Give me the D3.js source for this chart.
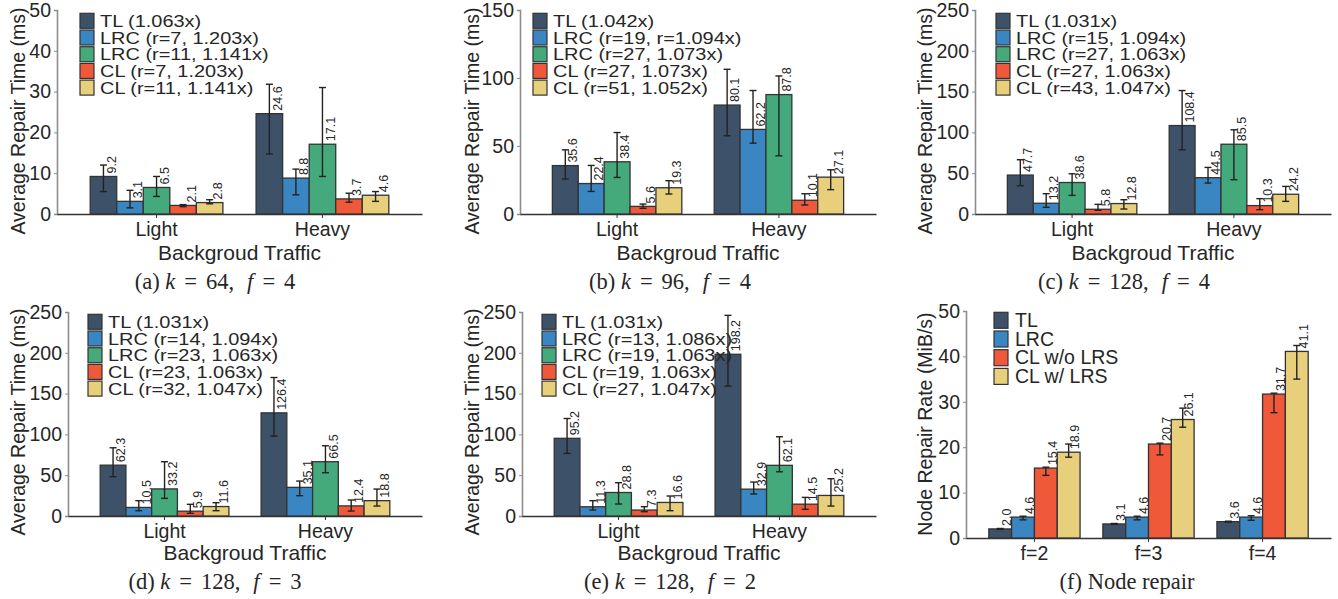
<!DOCTYPE html>
<html>
<head>
<meta charset="utf-8">
<script src="https://cdn.jsdelivr.net/npm/d3@7"></script>
<style>
  body { margin: 0; background: #fff; }
  svg { display: block; }
  text { font-family: Arial, "Liberation Sans", Helvetica, sans-serif; fill: #262626; }
  text.caption { font-family: "Times New Roman", "Liberation Serif", serif; }
</style>
</head>
<body>
<svg id="canvas" width="1338" height="599"></svg>
<script>
// ---- data ----
const trafficCats = ["Light", "Heavy"];
const repairTicks50 = [0, 10, 20, 30, 40, 50];
const repairTicks150 = [0, 50, 100, 150];
const repairTicks250 = [0, 50, 100, 150, 200, 250];

// (a) k=64, f=4
const aLegend = ["TL (1.063x)", "LRC (r=7, 1.203x)", "LRC (r=11, 1.141x)", "CL (r=7, 1.203x)", "CL (r=11, 1.141x)"];
const aValues = [[9.2, 3.1, 6.5, 2.1, 2.8], [24.6, 8.8, 17.1, 3.7, 4.6]];
const aLow = [[5.5, 1.5, 4.3, 1.8, 2.5], [14.7, 4.7, 9.2, 2.9, 3.1]];
const aHigh = [[12.0, 5.8, 9.2, 2.3, 3.5], [31.8, 11.0, 31.0, 5.1, 5.5]];

// (b) k=96, f=4
const bLegend = ["TL (1.042x)", "LRC (r=19, r=1.094x)", "LRC (r=27, 1.073x)", "CL (r=27, 1.073x)", "CL (r=51, 1.052x)"];
const bValues = [[35.6, 22.4, 38.4, 5.6, 19.3], [80.1, 62.2, 87.8, 10.1, 27.1]];
const bLow = [[25.7, 16.6, 26.9, 4.2, 14.7], [57.5, 52.1, 42.8, 6.6, 17.9]];
const bHigh = [[47.2, 35.7, 59.9, 7.3, 24.5], [106.4, 90.8, 101.5, 14.9, 32.5]];

// (c) k=128, f=4
const cLegend = ["TL (1.031x)", "LRC (r=15, 1.094x)", "LRC (r=27, 1.063x)", "CL (r=27, 1.063x)", "CL (r=43, 1.047x)"];
const cValues = [[47.7, 13.2, 38.6, 5.8, 12.8], [108.4, 44.5, 85.5, 10.3, 24.2]];
const cLow = [[34.7, 8.2, 22.8, 4.5, 6.1], [78.7, 37.9, 42.0, 5.3, 15.5]];
const cHigh = [[66.5, 24.9, 49.3, 11.8, 17.5], [151.3, 57.1, 103.2, 18.8, 33.8]];

// (d) k=128, f=3
const dLegend = ["TL (1.031x)", "LRC (r=14, 1.094x)", "LRC (r=23, 1.063x)", "CL (r=23, 1.063x)", "CL (r=32, 1.047x)"];
const dValues = [[62.3, 10.5, 33.2, 5.9, 11.6], [126.4, 35.1, 66.5, 12.4, 18.8]];
const dLow = [[48.1, 6.5, 21.6, 3.3, 6.5], [97.9, 24.9, 53.0, 6.1, 12.2]];
const dHigh = [[83.6, 18.8, 66.5, 14.3, 16.3], [169.7, 42.8, 86.1, 19.6, 33.0]];

// (e) k=128, f=2
const eLegend = ["TL (1.031x)", "LRC (r=13, 1.086x)", "LRC (r=19, 1.063x)", "CL (r=19, 1.063x)", "CL (r=27, 1.047x)"];
const eValues = [[95.2, 11.3, 28.8, 7.3, 16.6], [198.2, 32.9, 62.1, 14.5, 25.2]];
const eLow = [[76.7, 7.3, 14.7, 5.3, 6.5], [159.1, 26.9, 54.2, 8.2, 12.2]];
const eHigh = [[119.5, 18.8, 40.8, 11.4, 24.5], [245.9, 41.6, 97.1, 22.8, 45.7]];

// (f) node repair
const fCats = ["f=2", "f=3", "f=4"];
const fLegend = ["TL", "LRC", "CL w/o LRS", "CL w/ LRS"];
const fValues = [[2.0, 4.6, 15.4, 18.9], [3.1, 4.6, 20.7, 26.1], [3.6, 4.6, 31.7, 41.1]];
const fLow = [[1.9, 4.0, 13.8, 17.8], [3.0, 4.0, 18.3, 24.4], [3.5, 3.9, 27.6, 35.0]];
const fHigh = [[2.1, 4.8, 15.6, 20.7], [3.2, 4.8, 20.9, 28.6], [3.7, 4.9, 31.9, 42.4]];

// ---- styles ----
const colTL = "#3d5268", colLRC = "#3a86c3", colLRC2 = "#44aa7c", colCL = "#f0583a", colCL2 = "#e8cf7c";
const fiveColors = [colTL, colLRC, colLRC2, colCL, colCL2];
const fourColors = [colTL, colLRC, colCL, colCL2];
const sansFont = "Arial, Liberation Sans, Helvetica, sans-serif";

const svg = d3.select("#canvas");

function drawPanel(p) {
  const g = svg.append("g");
  const x0 = d3.scaleBand().domain(p.cats).range([p.left, p.right]).padding(0.2);
  const x1 = d3.scaleBand().domain(d3.range(p.legend.length)).range([0, x0.bandwidth()]);
  const y = d3.scaleLinear().domain([0, p.ticks[p.ticks.length - 1]]).range([p.bottom, p.top]);
  const bw = x1.bandwidth();

  // axes
  const yAxis = g.append("g").attr("transform", `translate(${p.left},0)`)
    .call(d3.axisLeft(y).tickValues(p.ticks).tickSize(3).tickPadding(3).tickFormat(d3.format("d")));
  yAxis.attr("font-family", sansFont);
  yAxis.select(".domain").attr("stroke", "#8c8c8c").attr("stroke-width", 1.6);
  yAxis.selectAll(".tick line").attr("stroke", "#8c8c8c");
  yAxis.selectAll(".tick text").style("font-size", "19.5px").attr("fill", "#262626");

  const xAxis = g.append("g").attr("transform", `translate(0,${p.bottom})`)
    .call(d3.axisBottom(x0).tickSize(4).tickPadding(4).tickSizeOuter(0));
  xAxis.attr("font-family", sansFont);
  xAxis.select(".domain").attr("stroke", "#333").attr("stroke-width", 1.6);
  xAxis.selectAll(".tick line").attr("stroke", "#333");
  xAxis.selectAll(".tick text").style("font-size", "19.5px").attr("fill", "#262626");

  // bars
  const groups = g.selectAll(".grp").data(p.cats).enter().append("g")
    .attr("transform", d => `translate(${x0(d)},0)`);

  groups.each(function (cat, ci) {
    const gg = d3.select(this);
    const rows = p.values[ci].map((v, si) => ({ v, si, lo: p.low[ci][si], hi: p.high[ci][si] }));

    gg.selectAll("rect").data(rows).enter().append("rect")
      .attr("x", d => x1(d.si))
      .attr("y", d => y(d.v))
      .attr("width", bw)
      .attr("height", d => p.bottom - y(d.v))
      .attr("fill", d => p.colors[d.si])
      .attr("stroke", "#333")
      .attr("stroke-width", 1.3);

    const err = gg.selectAll(".err").data(rows).enter().append("g").attr("stroke", "#222").attr("stroke-width", 1.4);
    err.append("line")
      .attr("x1", d => x1(d.si) + bw / 2).attr("x2", d => x1(d.si) + bw / 2)
      .attr("y1", d => y(d.lo)).attr("y2", d => y(d.hi));
    err.append("line")
      .attr("x1", d => x1(d.si) + bw / 2 - 3.5).attr("x2", d => x1(d.si) + bw / 2 + 3.5)
      .attr("y1", d => y(d.hi)).attr("y2", d => y(d.hi));
    err.append("line")
      .attr("x1", d => x1(d.si) + bw / 2 - 3.5).attr("x2", d => x1(d.si) + bw / 2 + 3.5)
      .attr("y1", d => y(d.lo)).attr("y2", d => y(d.lo));

    gg.selectAll(".lbl").data(rows).enter().append("text")
      .attr("transform", d => `translate(${x1(d.si) + bw / 2 + bw * 0.47},${y(d.v) - 3}) rotate(-90)`)
      .style("font-size", "12.5px")
      .attr("fill", "#444")
      .text(d => d.v.toFixed(1));
  });

  // legend
  const lg = g.append("g").attr("transform", `translate(${p.legX},${p.legY})`);
  p.legend.forEach((name, i) => {
    lg.append("rect").attr("x", 0).attr("y", i * p.legStep).attr("width", 14).attr("height", p.legBox)
      .attr("fill", p.colors[i]).attr("stroke", "#333").attr("stroke-width", 1.2);
    lg.append("text")
      .attr("transform", `translate(${p.legTextDx},${i * p.legStep + p.legBox - 1.5}) scale(${p.legStretch},1)`)
      .style("font-size", p.legFont + "px").text(name);
  });

  // axis titles
  g.append("text")
    .attr("transform", `translate(${p.yLabelX},${p.yLabelY}) rotate(-90)`)
    .attr("text-anchor", "middle").attr("dominant-baseline", "central")
    .style("font-size", "19.5px").text(p.yTitle);
  if (p.xTitle) {
    g.append("text").attr("x", (p.left + p.right) / 2).attr("y", p.xTitleY)
      .attr("text-anchor", "middle").style("font-size", "21px").text(p.xTitle);
  }

  // caption
  const cap = g.append("text").attr("class", "caption").attr("x", p.capX).attr("y", p.capY)
    .attr("text-anchor", "middle").style("font-size", "22.5px");
  p.caption.forEach(part => {
    cap.append("tspan").attr("dx", part.dx || 0).style("font-style", part.it ? "italic" : "normal").text(part.t);
  });
}

function kfCaption(letter, k, f) {
  return [
    { t: `(${letter}) ` }, { t: "k", it: true }, { t: "=", dx: 9 }, { t: `${k},`, dx: 9 },
    { t: "f", it: true, dx: 13 }, { t: "=", dx: 9 }, { t: `${f}`, dx: 9 }
  ];
}

const topRow = { top: 10, bottom: 214, yLabelY: 121, xTitleY: 260, capY: 289 };
const botRow = { top: 312, bottom: 516, yLabelY: 422, xTitleY: 560, capY: 589 };
const fiveLeg = { legStep: 16.7, legBox: 15, legTextDx: 20, legFont: 17.2, legStretch: 1.16 };

drawPanel(Object.assign({}, topRow, fiveLeg, {
  cats: trafficCats, legend: aLegend, values: aValues, low: aLow, high: aHigh, ticks: repairTicks50,
  colors: fiveColors, left: 57, right: 422, legX: 80, legY: 13.3, yLabelX: 18, capX: 215,
  yTitle: "Average Repair Time (ms)", xTitle: "Backgroud Traffic", caption: kfCaption("a", 64, 4)
}));
drawPanel(Object.assign({}, topRow, fiveLeg, {
  cats: trafficCats, legend: bLegend, values: bValues, low: bLow, high: bHigh, ticks: repairTicks150,
  colors: fiveColors, left: 520, right: 876, legX: 533, legY: 13.3, yLabelX: 472, capX: 670,
  yTitle: "Average Repair Time (ms)", xTitle: "Backgroud Traffic", caption: kfCaption("b", 96, 4)
}));
drawPanel(Object.assign({}, topRow, fiveLeg, {
  cats: trafficCats, legend: cLegend, values: cValues, low: cLow, high: cHigh, ticks: repairTicks250,
  colors: fiveColors, left: 975, right: 1331, legX: 996, legY: 13.3, yLabelX: 925, capX: 1124,
  yTitle: "Average Repair Time (ms)", xTitle: "Backgroud Traffic", caption: kfCaption("c", 128, 4)
}));
drawPanel(Object.assign({}, botRow, fiveLeg, {
  cats: trafficCats, legend: dLegend, values: dValues, low: dLow, high: dHigh, ticks: repairTicks250,
  colors: fiveColors, left: 68, right: 422, legX: 88, legY: 314.3, yLabelX: 18, capX: 215,
  yTitle: "Average Repair Time (ms)", xTitle: "Backgroud Traffic", caption: kfCaption("d", 128, 3)
}));
drawPanel(Object.assign({}, botRow, fiveLeg, {
  cats: trafficCats, legend: eLegend, values: eValues, low: eLow, high: eHigh, ticks: repairTicks250,
  colors: fiveColors, left: 522, right: 876, legX: 542, legY: 314.3, yLabelX: 472, capX: 670,
  yTitle: "Average Repair Time (ms)", xTitle: "Backgroud Traffic", caption: kfCaption("e", 128, 2)
}));
drawPanel(Object.assign({}, {
  top: 311, bottom: 538, yLabelY: 424, capY: 589,
  legStep: 18.7, legBox: 16, legTextDx: 21, legFont: 19.5, legStretch: 1,
  cats: fCats, legend: fLegend, values: fValues, low: fLow, high: fHigh, ticks: repairTicks50,
  colors: fourColors, left: 966, right: 1331, legX: 994, legY: 312.3, yLabelX: 925, capX: 1127,
  yTitle: "Node Repair Rate (MiB/s)", xTitle: null, caption: [{ t: "(f) Node repair" }]
}));
</script>
</body>
</html>
